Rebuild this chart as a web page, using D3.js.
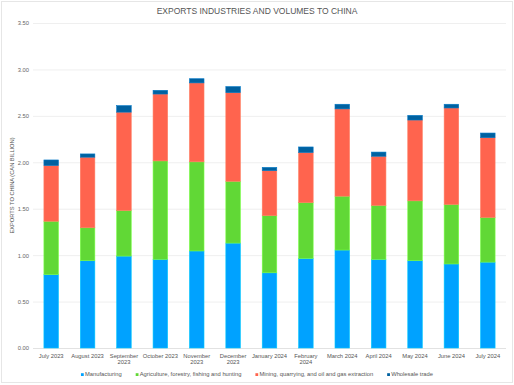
<!DOCTYPE html>
<html>
<head>
<meta charset="utf-8">
<script src="https://cdn.jsdelivr.net/npm/d3@7"></script>
<style>
  body { margin: 0; background: #fff; }
  svg { font-family: Helvetica, Arial, "Liberation Sans", sans-serif; }
</style>
</head>
<body>
<div id="chart"></div>
<script>
// months along the x axis
const months = ['July 2023', 'August 2023', 'September 2023', 'October 2023', 'November 2023',
  'December 2023', 'January 2024', 'February 2024', 'March 2024', 'April 2024',
  'May 2024', 'June 2024', 'July 2024'];

// CAN billion
const manufacturing = [0.79, 0.94, 0.99, 0.955, 1.045, 1.13, 0.81, 0.965, 1.055, 0.955, 0.94, 0.905, 0.925];
const agriculture   = [0.575, 0.355, 0.49, 1.06, 0.96, 0.665, 0.615, 0.60, 0.58, 0.58, 0.645, 0.64, 0.48];
const mining        = [0.60, 0.76, 1.06, 0.72, 0.85, 0.955, 0.485, 0.54, 0.94, 0.53, 0.87, 1.04, 0.86];
const wholesale     = [0.06, 0.035, 0.07, 0.04, 0.045, 0.065, 0.035, 0.06, 0.05, 0.045, 0.05, 0.04, 0.05];

const seriesNames = ['Manufacturing', 'Agriculture, forestry, fishing and hunting',
  'Mining, quarrying, and oil and gas extraction', 'Wholesale trade'];
const seriesKeys = ['manufacturing', 'agriculture', 'mining', 'wholesale'];
const colors = ['#00a2ff', '#61d836', '#ff644e', '#0061a0'];
const yTicks = [0, 0.5, 1, 1.5, 2, 2.5, 3, 3.5];

const W = 514, H = 385;
const margin = { top: 23, right: 8, bottom: 37, left: 33 };

const rows = months.map((m, i) => ({
  month: m,
  manufacturing: manufacturing[i],
  agriculture: agriculture[i],
  mining: mining[i],
  wholesale: wholesale[i]
}));

const svg = d3.select('#chart').append('svg')
  .attr('width', W)
  .attr('height', H);

svg.append('rect')
  .attr('x', 1.5).attr('y', 1.5)
  .attr('width', W - 3).attr('height', H - 4)
  .attr('fill', '#fff')
  .attr('stroke', '#e6e6e6');

const x = d3.scaleBand()
  .domain(months)
  .range([margin.left, W - margin.right])
  .paddingInner(0.6)
  .paddingOuter(0.3);

const y = d3.scaleLinear()
  .domain([0, 3.5])
  .range([H - margin.bottom, margin.top]);

// grid
svg.append('g')
  .selectAll('line')
  .data(yTicks)
  .join('line')
  .attr('x1', margin.left)
  .attr('x2', W - margin.right)
  .attr('y1', d => y(d) + 0.5)
  .attr('y2', d => y(d) + 0.5)
  .attr('stroke', d => d === 0 ? '#e2e2e2' : '#efefef')
  .attr('stroke-width', 1);

// y axis labels
const yAxis = svg.append('g')
  .attr('transform', `translate(${margin.left - 4},0)`)
  .call(d3.axisLeft(y).tickValues(yTicks).tickFormat(d3.format('.2f')).tickSize(0).tickPadding(0));
yAxis.select('.domain').remove();
yAxis.selectAll('text')
  .attr('fill', '#666')
  .style('font-size', '5.8px');

// stacked bars
const stack = d3.stack().keys(seriesKeys)(rows);

svg.append('g')
  .selectAll('g')
  .data(stack)
  .join('g')
  .attr('fill', (d, i) => colors[i])
  .attr('stroke', (d, i) => d3.color(colors[i]).brighter(0.6))
  .attr('stroke-width', 0.6)
  .selectAll('rect')
  .data(d => d)
  .join('rect')
  .attr('x', d => x(d.data.month))
  .attr('width', x.bandwidth())
  .attr('y', d => y(d[1]))
  .attr('height', d => y(d[0]) - y(d[1]));

// x labels, wrapped when wider than the step
const xLabels = svg.append('g')
  .selectAll('text')
  .data(months)
  .join('text')
  .attr('x', d => x(d) + x.bandwidth() / 2)
  .attr('y', H - margin.bottom + 9.5)
  .attr('text-anchor', 'middle')
  .attr('fill', '#555')
  .style('font-size', '5.8px')
  .text(d => d);

xLabels.each(function(d) {
  const t = d3.select(this);
  if (this.getComputedTextLength() > x.step() - 1) {
    const words = d.split(' ');
    const last = words.pop();
    t.text(null);
    t.append('tspan').attr('x', x(d) + x.bandwidth() / 2).text(words.join(' '));
    t.append('tspan').attr('x', x(d) + x.bandwidth() / 2).attr('dy', 6.8).text(last);
  }
});

// y axis title
svg.append('text')
  .attr('transform', `translate(14,${(margin.top + H - margin.bottom) / 2}) rotate(-90)`)
  .attr('text-anchor', 'middle')
  .attr('fill', '#555')
  .style('font-size', '5.7px')
  .text('EXPORTS TO CHINA (CAN BILLION)');

// title
svg.append('text')
  .attr('x', W / 2)
  .attr('y', 14)
  .attr('text-anchor', 'middle')
  .attr('fill', '#555')
  .style('font-size', '8.5px')
  .text('EXPORTS INDUSTRIES AND VOLUMES TO CHINA');

// legend
const legend = svg.append('g');
const items = legend.selectAll('g')
  .data(seriesNames)
  .join('g');
items.append('rect')
  .attr('width', 2.8)
  .attr('height', 2.8)
  .attr('y', -2.8)
  .attr('fill', (d, i) => colors[i]);
items.append('text')
  .attr('x', 4)
  .attr('y', 0)
  .attr('fill', '#555')
  .style('font-size', '5.8px')
  .text(d => d);

let offset = 0;
items.each(function() {
  d3.select(this).attr('transform', `translate(${offset},0)`);
  offset += 4 + d3.select(this).select('text').node().getComputedTextLength() + 14;
});
const legendWidth = offset - 14;
legend.attr('transform', `translate(${W / 2 - legendWidth / 2},376)`);
</script>
</body>
</html>
